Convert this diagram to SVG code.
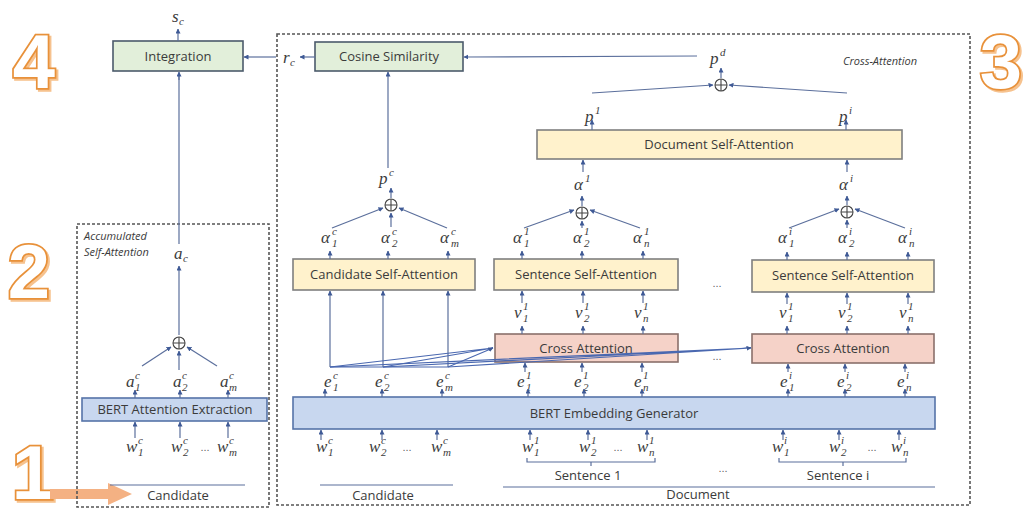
<svg xmlns="http://www.w3.org/2000/svg" width="1023" height="518" viewBox="0 0 1023 518">
<defs>
<marker id="ah" viewBox="0 0 10 10" refX="9" refY="5" markerWidth="5" markerHeight="5" markerUnits="userSpaceOnUse" orient="auto">
<path d="M0,0 L10,5 L0,10 z" fill="#3f5a96"/>
</marker>
<style>
.box{stroke-width:1.6}
.g{fill:#e2efda;stroke:#4b5a6b}
.y{fill:#fff2cc;stroke:#7f7f7f}
.r{fill:#f5d2c8;stroke:#8a706b}
.b{fill:#c8d7ef;stroke:#5673a8}
.bt{font-family:"Open Sans","Noto Sans",sans-serif;font-size:13px;fill:#3b3b3b;text-anchor:middle}
.m{font-family:"Liberation Serif",serif;font-style:italic;font-size:17px;fill:#3b3b3b}
.s{font-size:11px}
.it{font-family:"Open Sans","Noto Sans",sans-serif;font-style:italic;font-size:11px;fill:#3b3b3b}
.dots{font-family:"Liberation Sans",sans-serif;font-size:11px;fill:#666;text-anchor:middle}
.ln{fill:none;stroke:#5b6f9c;stroke-width:1.2}
.ar{fill:none;stroke:#5b6f9c;stroke-width:1.2;marker-end:url(#ah)}
.ca{fill:none;stroke:#4a68b0;stroke-width:1.2}
.dash{fill:none;stroke:#555;stroke-width:1.6;stroke-dasharray:3 2}
.big{font-family:"Liberation Sans",sans-serif;font-weight:bold;font-size:76px;fill:#fff;stroke:#e8913a;stroke-width:3.5;paint-order:stroke;text-anchor:middle}
.bigs{font-family:"Liberation Sans",sans-serif;font-weight:bold;font-size:76px;fill:#f6c28e;stroke:#f6c28e;stroke-width:3.5;text-anchor:middle}
.plus{fill:none;stroke:#444;stroke-width:1.1}
</style>
</defs>

<!-- big step numbers -->
<g id="step4"><text class="bigs" x="36" y="90">4</text><text class="big" x="34" y="88">4</text></g>
<g id="step2"><text class="bigs" x="31" y="300">2</text><text class="big" x="29" y="298">2</text></g>
<g id="step3"><text class="bigs" x="1003" y="90">3</text><text class="big" x="1001" y="88">3</text></g>
<g id="step1"><text class="bigs" x="35" y="501" font-size="72">1</text><text class="big" x="33" y="499" font-size="72">1</text>
<path d="M50,489 L108,489 L108,483 L132,494 L108,505 L108,499 L50,499 z" fill="#f4b183"/></g>

<!-- dashed regions -->
<g id="acc-box"><rect class="dash" x="77" y="224" width="192" height="283"/>
<text class="it" x="84" y="240">Accumulated</text><text class="it" x="84" y="256">Self-Attention</text></g>
<g id="cross-box"><rect class="dash" x="277" y="34" width="693" height="471"/>
<text class="it" x="880" y="65" text-anchor="middle" font-size="12">Cross-Attention</text></g>

<!-- nodes -->
<g id="integration"><rect class="box g" x="113" y="41" width="130" height="30"/><text class="bt" x="178" y="61">Integration</text></g>
<g id="cosine"><rect class="box g" x="315" y="42" width="148" height="29"/><text class="bt" x="389" y="61">Cosine Similarity</text></g>
<g id="doc-sa"><rect class="box y" x="537" y="130" width="365" height="29"/><text class="bt" x="719" y="149">Document Self-Attention</text></g>
<g id="cand-sa"><rect class="box y" x="293" y="259" width="182" height="31"/><text class="bt" x="384" y="279">Candidate Self-Attention</text></g>
<g id="sent-sa-1"><rect class="box y" x="494" y="259" width="184" height="31"/><text class="bt" x="586" y="279">Sentence Self-Attention</text></g>
<g id="sent-sa-i"><rect class="box y" x="752" y="260" width="182" height="32"/><text class="bt" x="843" y="280">Sentence Self-Attention</text></g>
<g id="cross-att-1"><rect class="box r" x="495" y="334" width="183" height="28"/><text class="bt" x="586" y="353">Cross Attention</text></g>
<g id="cross-att-i"><rect class="box r" x="752" y="334" width="182" height="29"/><text class="bt" x="843" y="353">Cross Attention</text></g>
<g id="bert-emb"><rect class="box b" x="293" y="397" width="642" height="32"/><text class="bt" x="614" y="418">BERT Embedding Generator</text></g>
<g id="bert-att"><rect class="box b" x="82" y="398" width="185" height="23"/><text class="bt" x="175" y="414">BERT Attention Extraction</text></g>

<!-- sum nodes -->
<g id="sum-acc"><circle class="plus" cx="179" cy="343" r="6"/><path class="plus" d="M173,343h12M179,337v12"/></g>
<g id="sum-cand"><circle class="plus" cx="391" cy="205" r="6"/><path class="plus" d="M385,205h12M391,199v12"/></g>
<g id="sum-s1"><circle class="plus" cx="582" cy="213" r="6"/><path class="plus" d="M576,213h12M582,207v12"/></g>
<g id="sum-si"><circle class="plus" cx="847" cy="212" r="6"/><path class="plus" d="M841,212h12M847,206v12"/></g>
<g id="sum-doc"><circle class="plus" cx="721" cy="85" r="6"/><path class="plus" d="M715,85h12M721,79v12"/></g>

<!-- labels -->
<g id="labels">
<text class="m" x="172" y="22">s<tspan class="s" x="179" y="25">c</tspan></text>
<text class="m" x="174" y="259">a<tspan class="s" x="183" y="262">c</tspan></text>
<text class="m" x="126" y="387">a<tspan class="s" x="135" y="379">c</tspan><tspan class="s" x="135" y="391">1</tspan></text>
<text class="m" x="173" y="387">a<tspan class="s" x="182" y="379">c</tspan><tspan class="s" x="182" y="391">2</tspan></text>
<text class="m" x="220" y="387">a<tspan class="s" x="229" y="379">c</tspan><tspan class="s" x="229" y="391">m</tspan></text>
<text class="m" x="126" y="452">w<tspan class="s" x="138" y="444">c</tspan><tspan class="s" x="138" y="456">1</tspan></text>
<text class="m" x="171" y="452">w<tspan class="s" x="183" y="444">c</tspan><tspan class="s" x="183" y="456">2</tspan></text>
<text class="dots" x="205" y="451">...</text>
<text class="m" x="217" y="452">w<tspan class="s" x="229" y="444">c</tspan><tspan class="s" x="229" y="456">m</tspan></text>

<text class="m" x="283" y="63">r<tspan class="s" x="290" y="66">c</tspan></text>
<text class="m" x="379" y="184">p<tspan class="s" x="389" y="176">c</tspan></text>
<text class="m" x="710" y="64">p<tspan class="s" x="720" y="56">d</tspan></text>
<text class="m" x="585" y="122">p<tspan class="s" x="595" y="114">1</tspan></text>
<text class="m" x="839" y="122">p<tspan class="s" x="849" y="114">i</tspan></text>
<text class="m" x="574" y="190">α<tspan class="s" x="585" y="182">1</tspan></text>
<text class="m" x="839" y="190">α<tspan class="s" x="850" y="182">i</tspan></text>

<text class="m" x="321" y="243">α<tspan class="s" x="332" y="235">c</tspan><tspan class="s" x="332" y="247">1</tspan></text>
<text class="m" x="381" y="243">α<tspan class="s" x="392" y="235">c</tspan><tspan class="s" x="392" y="247">2</tspan></text>
<text class="m" x="440" y="243">α<tspan class="s" x="451" y="235">c</tspan><tspan class="s" x="451" y="247">m</tspan></text>
<text class="m" x="513" y="243">α<tspan class="s" x="524" y="235">1</tspan><tspan class="s" x="524" y="247">1</tspan></text>
<text class="m" x="573" y="243">α<tspan class="s" x="584" y="235">1</tspan><tspan class="s" x="584" y="247">2</tspan></text>
<text class="m" x="633" y="243">α<tspan class="s" x="644" y="235">1</tspan><tspan class="s" x="644" y="247">n</tspan></text>
<text class="m" x="778" y="243">α<tspan class="s" x="789" y="235">i</tspan><tspan class="s" x="789" y="247">1</tspan></text>
<text class="m" x="838" y="243">α<tspan class="s" x="849" y="235">i</tspan><tspan class="s" x="849" y="247">2</tspan></text>
<text class="m" x="898" y="243">α<tspan class="s" x="909" y="235">i</tspan><tspan class="s" x="909" y="247">n</tspan></text>

<text class="m" x="514" y="318">v<tspan class="s" x="523" y="310">1</tspan><tspan class="s" x="523" y="322">1</tspan></text>
<text class="m" x="575" y="318">v<tspan class="s" x="584" y="310">1</tspan><tspan class="s" x="584" y="322">2</tspan></text>
<text class="m" x="634" y="318">v<tspan class="s" x="643" y="310">1</tspan><tspan class="s" x="643" y="322">n</tspan></text>
<text class="m" x="779" y="318">v<tspan class="s" x="788" y="310">1</tspan><tspan class="s" x="788" y="322">1</tspan></text>
<text class="m" x="838" y="318">v<tspan class="s" x="847" y="310">1</tspan><tspan class="s" x="847" y="322">2</tspan></text>
<text class="m" x="899" y="318">v<tspan class="s" x="908" y="310">1</tspan><tspan class="s" x="908" y="322">n</tspan></text>

<text class="m" x="324" y="387">e<tspan class="s" x="333" y="379">c</tspan><tspan class="s" x="333" y="391">1</tspan></text>
<text class="m" x="375" y="387">e<tspan class="s" x="384" y="379">c</tspan><tspan class="s" x="384" y="391">2</tspan></text>
<text class="m" x="436" y="387">e<tspan class="s" x="445" y="379">c</tspan><tspan class="s" x="445" y="391">m</tspan></text>
<text class="m" x="517" y="387">e<tspan class="s" x="526" y="379">1</tspan><tspan class="s" x="526" y="391">1</tspan></text>
<text class="m" x="574" y="387">e<tspan class="s" x="583" y="379">1</tspan><tspan class="s" x="583" y="391">2</tspan></text>
<text class="m" x="634" y="387">e<tspan class="s" x="643" y="379">1</tspan><tspan class="s" x="643" y="391">n</tspan></text>
<text class="m" x="780" y="387">e<tspan class="s" x="789" y="379">i</tspan><tspan class="s" x="789" y="391">1</tspan></text>
<text class="m" x="837" y="387">e<tspan class="s" x="846" y="379">i</tspan><tspan class="s" x="846" y="391">2</tspan></text>
<text class="m" x="897" y="387">e<tspan class="s" x="906" y="379">i</tspan><tspan class="s" x="906" y="391">n</tspan></text>

<text class="m" x="316" y="452">w<tspan class="s" x="328" y="444">c</tspan><tspan class="s" x="328" y="456">1</tspan></text>
<text class="m" x="369" y="452">w<tspan class="s" x="381" y="444">c</tspan><tspan class="s" x="381" y="456">2</tspan></text>
<text class="dots" x="407" y="451">...</text>
<text class="m" x="431" y="452">w<tspan class="s" x="443" y="444">c</tspan><tspan class="s" x="443" y="456">m</tspan></text>
<text class="m" x="522" y="452">w<tspan class="s" x="534" y="444">1</tspan><tspan class="s" x="534" y="456">1</tspan></text>
<text class="m" x="579" y="452">w<tspan class="s" x="591" y="444">1</tspan><tspan class="s" x="591" y="456">2</tspan></text>
<text class="dots" x="618" y="451">...</text>
<text class="m" x="637" y="452">w<tspan class="s" x="649" y="444">1</tspan><tspan class="s" x="649" y="456">n</tspan></text>
<text class="m" x="772" y="452">w<tspan class="s" x="784" y="444">i</tspan><tspan class="s" x="784" y="456">1</tspan></text>
<text class="m" x="829" y="452">w<tspan class="s" x="841" y="444">i</tspan><tspan class="s" x="841" y="456">2</tspan></text>
<text class="dots" x="872" y="451">...</text>
<text class="m" x="891" y="452">w<tspan class="s" x="903" y="444">i</tspan><tspan class="s" x="903" y="456">n</tspan></text>

<text class="dots" x="717" y="287">...</text>
<text class="dots" x="717" y="360">...</text>
<text class="dots" x="723" y="472">...</text>

<text class="bt" x="178" y="500">Candidate</text>
<text class="bt" x="383" y="500">Candidate</text>
<text class="bt" x="588" y="480">Sentence 1</text>
<text class="bt" x="838" y="480">Sentence i</text>
<text class="bt" x="698" y="499">Document</text>
</g>

<!-- connectors -->
<g id="connectors">
<!-- left column -->
<path class="ar" d="M178,41V29"/>
<path class="ln" d="M179,244V75"/><path class="ar" d="M179,80V72"/>
<path class="ar" d="M179,335V266"/>
<path class="ar" d="M142,366L171,347"/>
<path class="ar" d="M217,366L187,347"/>
<path class="ar" d="M179,370V351"/>
<path class="ar" d="M135,398V390"/><path class="ar" d="M180,398V390"/><path class="ar" d="M228,398V390"/>
<path class="ar" d="M135,438V422"/><path class="ar" d="M180,438V422"/><path class="ar" d="M228,438V422"/>
<path class="ln" d="M110,485H245"/>
<path class="ar" d="M276,57H244"/>

<!-- top / cosine -->
<path class="ar" d="M315,57H300"/>
<path class="ar" d="M697,56L464,57"/>
<path class="ar" d="M721,78V68"/>
<path class="ar" d="M592,93L713,85"/>
<path class="ar" d="M847,93L729,85"/>
<path class="ar" d="M592,130V120"/>
<path class="ar" d="M846,130V120"/>
<path class="ar" d="M583,172V160"/>
<path class="ar" d="M847,172V160"/>

<!-- candidate branch -->
<path class="ar" d="M388,168V72"/>
<path class="ar" d="M391,198V188"/>
<path class="ar" d="M332,228L383,208"/>
<path class="ar" d="M447,228L399,208"/>
<path class="ar" d="M391,227V213"/>
<path class="ar" d="M330,259V251"/><path class="ar" d="M388,259V251"/><path class="ar" d="M448,259V251"/>
<path class="ar" d="M330,367V291"/><path class="ar" d="M383,367V291"/><path class="ar" d="M448,367V291"/>

<!-- sentence 1 -->
<path class="ar" d="M582,206V196"/>
<path class="ar" d="M524,228L574,210"/>
<path class="ar" d="M640,228L590,210"/>
<path class="ar" d="M582,228V221"/>
<path class="ar" d="M522,259V251"/><path class="ar" d="M582,259V251"/><path class="ar" d="M643,259V251"/>
<path class="ar" d="M522,303V291"/><path class="ar" d="M583,303V291"/><path class="ar" d="M643,303V291"/>
<path class="ar" d="M522,334V326"/><path class="ar" d="M583,334V326"/><path class="ar" d="M643,334V326"/>
<path class="ar" d="M525,372V363"/><path class="ar" d="M582,372V363"/><path class="ar" d="M642,372V363"/>

<!-- sentence i -->
<path class="ar" d="M847,205V196"/>
<path class="ar" d="M789,228L839,209"/>
<path class="ar" d="M905,228L855,209"/>
<path class="ar" d="M847,228V220"/>
<path class="ar" d="M787,260V252"/><path class="ar" d="M847,260V252"/><path class="ar" d="M908,260V252"/>
<path class="ar" d="M787,304V293"/><path class="ar" d="M847,304V293"/><path class="ar" d="M908,304V293"/>
<path class="ar" d="M787,334V326"/><path class="ar" d="M847,334V326"/><path class="ar" d="M908,334V326"/>
<path class="ar" d="M788,372V364"/><path class="ar" d="M845,372V364"/><path class="ar" d="M905,372V364"/>

<!-- cross-attention fan -->
<path class="ca" d="M330,367H448"/>
<path class="ca" d="M330,367L493,348M383,367L493,348M448,367L493,348" marker-end="url(#ah)"/>
<path class="ca" d="M330,367L751,348M383,367L751,348M448,367L751,348" marker-end="url(#ah)"/>

<!-- embeddings -->
<path class="ar" d="M325,397V389"/><path class="ar" d="M382,397V389"/><path class="ar" d="M442,397V389"/>
<path class="ar" d="M528,397V389"/><path class="ar" d="M584,397V389"/><path class="ar" d="M642,397V389"/>
<path class="ar" d="M788,397V389"/><path class="ar" d="M845,397V389"/><path class="ar" d="M905,397V389"/>
<path class="ar" d="M321,440V430"/><path class="ar" d="M382,440V430"/><path class="ar" d="M437,440V430"/>
<path class="ar" d="M530,440V430"/><path class="ar" d="M588,440V430"/><path class="ar" d="M647,440V430"/>
<path class="ar" d="M783,440V430"/><path class="ar" d="M839,440V430"/><path class="ar" d="M899,440V430"/>

<!-- braces and underlines -->
<path class="ln" d="M527,458V462H655V458M591,462V466" stroke="#777"/>
<path class="ln" d="M779,458V462H906V458M843,462V466" stroke="#777"/>
<path class="ln" d="M320,485H453"/>
<path class="ln" d="M503,487H935"/>
</g>
</svg>
